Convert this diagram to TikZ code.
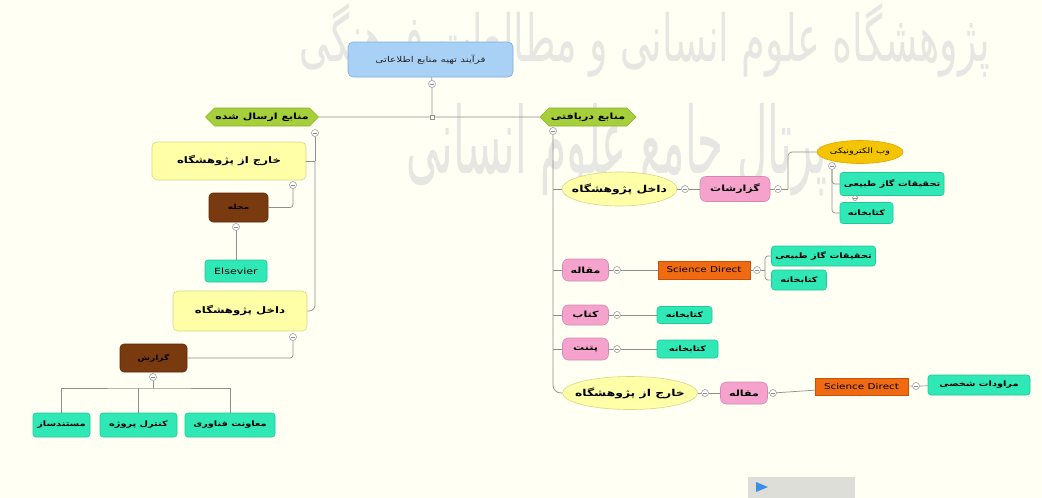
\documentclass[tikz,border=0pt]{standalone}
\usepackage{fontspec}
\usepackage{graphicx}
\usetikzlibrary{shapes.geometric,shapes.symbols}
\TeXXeTstate=1
\newfontfamily\arabicfont[Script=Arabic, FakeStretch=1.3]{DejaVu Sans}
\newfontfamily\wmfont[Script=Arabic]{DejaVu Sans}
\newcommand\fa[1]{{\arabicfont\beginR #1\endR}}
\newcommand\wm[1]{{\wmfont\beginR #1\endR}}
\definecolor{bgc}{HTML}{FFFFF3}
\definecolor{linec}{HTML}{8E8E8E}
\definecolor{bluef}{HTML}{A9D0F5}
\definecolor{blueb}{HTML}{7EAEDD}
\definecolor{greenf}{HTML}{A6CF3C}
\definecolor{greenb}{HTML}{88B22A}
\definecolor{yelf}{HTML}{FFFFA8}
\definecolor{yelb}{HTML}{D6D68C}
\definecolor{brownf}{HTML}{7A3A10}
\definecolor{brownb}{HTML}{5A2808}
\definecolor{cyanf}{HTML}{2FE8B6}
\definecolor{cyanb}{HTML}{20C898}
\definecolor{pinkf}{HTML}{F5A3CC}
\definecolor{pinkb}{HTML}{D888B0}
\definecolor{orangef}{HTML}{F06A12}
\definecolor{orangeb}{HTML}{C85008}
\definecolor{goldf}{HTML}{F5C400}
\definecolor{goldb}{HTML}{D8A800}
\definecolor{wmk}{HTML}{E6E6E2}
\definecolor{barc}{HTML}{DEDED8}
\definecolor{tric}{HTML}{3A8EE6}
\tikzset{
  base/.style={draw, line width=0.6pt, inner sep=0pt, text=black,
    font=\arabicfont\bfseries\fontsize{7.5}{9}\selectfont},
  wh/.style 2 args={minimum width=#1pt, minimum height=#2pt},
  rootbox/.style={base, rectangle, rounded corners=5pt, fill=bluef, draw=blueb,
    font=\arabicfont\fontsize{8}{9}\selectfont, text=black!85},
  greenbox/.style={base, signal, signal to=west and east, fill=greenf, draw=greenb,
    font=\arabicfont\bfseries\fontsize{8.5}{9}\selectfont},
  yelbox/.style={base, rectangle, rounded corners=5pt, fill=yelf, draw=yelb,
    font=\arabicfont\bfseries\fontsize{9}{10}\selectfont},
  yelell/.style={base, ellipse, inner xsep=-20pt, fill=yelf, draw=yelb,
    font=\arabicfont\bfseries\fontsize{9.5}{10}\selectfont},
  brownbox/.style={base, rectangle, rounded corners=4pt, fill=brownf, draw=brownb,
    font=\arabicfont\bfseries\fontsize{7}{8}\selectfont},
  cyanbox/.style={base, rectangle, rounded corners=3pt, fill=cyanf, draw=cyanb},
  pinkbox/.style={base, rectangle, rounded corners=6pt, fill=pinkf, draw=pinkb,
    font=\arabicfont\bfseries\fontsize{8.5}{9}\selectfont},
  orangebox/.style={base, rectangle, fill=orangef, draw=orangeb,
    font=\arabicfont\fontsize{8}{9}\selectfont},
  goldell/.style={base, ellipse, inner xsep=-12pt, fill=goldf, draw=goldb,
    font=\arabicfont\fontsize{7.5}{8}\selectfont},
  mk/.style={circle, draw=linec, fill=white, line width=0.5pt, minimum size=7pt, inner sep=0pt,
    path picture={\draw[linec, line width=0.5pt] ([xshift=-2pt]path picture bounding box.center)
      -- ([xshift=2pt]path picture bounding box.center);}},
  conn/.style={draw=linec, line width=0.7pt},
}
\begin{document}
\begin{tikzpicture}[x=1pt, y=-1pt]
\path[use as bounding box, fill=bgc] (0,0) rectangle (1042,498);

% ---------- watermark (behind) ----------
\node[text=wmk, inner sep=0pt] (wm1) at (645,40)
  {\resizebox{690pt}{58pt}{\wm{پژوهشگاه علوم انسانی و مطالعات فرهنگی}}};
\node[text=wmk, inner sep=0pt] (wm2) at (617,150)
  {\resizebox{420pt}{70pt}{\wm{پرتال جامع علوم انسانی}}};

% ---------- root ----------
\node[rootbox, wh={165}{35}] (root) at (430.5,59.5) {\fa{فرآیند تهیه منابع اطلاعاتی}};
\node[mk] (rootm) at (432,84) {};
\coordinate (J) at (432,117);
\node[greenbox, wh={113}{18}] (sent) at (262,117) {\fa{منابع ارسال شده}};
\node[greenbox, wh={96}{18}] (recv) at (588,117) {\fa{منابع دریافتی}};
\draw[conn] (root) -- (rootm) -- (J);
\draw[conn] (sent) -- (recv);
\node[draw=linec, fill=white, minimum size=4pt, inner sep=0pt] (Jsq) at (J) {};

% ---------- left branch ----------
\node[mk] (sentm) at (315,133) {};
\node[yelbox, wh={154}{38}] (L1) at (229,161) {\fa{خارج از پژوهشگاه}};
\node[yelbox, wh={134}{40}] (L2) at (240,311) {\fa{داخل پژوهشگاه}};
\draw[conn] (sentm) -- (L1.east -| sentm);
\draw[conn, rounded corners=6pt] (L1.east -| sentm) |- (L2.east);
\draw[conn] (L1.east -| sentm) -- (L1.east);

\node[mk] (L1m) at (293,185) {};
\node[brownbox, wh={59}{29}] (B1) at (238.5,207.5) {\fa{مجله}};
\draw[conn, rounded corners=3pt] (L1m) |- (B1.east);
\node[mk] (B1m) at (236,227) {};
\node[cyanbox, wh={62}{22}, font=\arabicfont\fontsize{8.5}{9}\selectfont] (els) at (236,271) {Elsevier};
\draw[conn] (B1m) -- (els.north);

\node[mk] (L2m) at (293,337) {};
\node[brownbox, wh={67}{28}] (B2) at (153.5,358) {\fa{گزارش}};
\draw[conn, rounded corners=3pt] (L2m) |- (B2.east);
\node[mk] (B2m) at (153,377) {};
\node[cyanbox, wh={57}{24}] (c1) at (61.5,425) {\fa{مستندساز}};
\node[cyanbox, wh={77}{24}] (c2) at (138.5,425) {\fa{کنترل پروژه}};
\node[cyanbox, wh={90}{24}] (c3) at (230,425) {\fa{معاونت فناوری}};
\coordinate (Bj) at (153,388);
\draw[conn] (B2m) -- (Bj);
\draw[conn] (c1.north) |- (Bj) -| (c3.north);
\draw[conn] (c2.north) -- (c2.north |- Bj);

% ---------- right branch ----------
\node[mk] (recvm) at (553,131) {};
\node[yelell, wh={115}{34}] (R1) at (619.5,189) {\fa{داخل پژوهشگاه}};
\node[pinkbox, wh={46}{22}] (P1) at (585.5,270) {\fa{مقاله}};
\node[pinkbox, wh={46}{20}] (P2) at (585.5,315) {\fa{کتاب}};
\node[pinkbox, wh={46}{22}] (P3) at (585.5,349) {\fa{پتنت}};
\node[yelell, wh={135}{33}] (R5) at (630,393) {\fa{خارج از پژوهشگاه}};
\draw[conn, rounded corners=8pt] (recvm) |- (R5.west);
\draw[conn] (R1.west -| recvm) -- (R1.west);
\draw[conn] (P1.west -| recvm) -- (P1.west);
\draw[conn] (P2.west -| recvm) -- (P2.west);
\draw[conn] (P3.west -| recvm) -- (P3.west);

% inside institute
\node[mk] (R1m) at (685,189) {};
\node[pinkbox, wh={70}{25}] (R2) at (735,189) {\fa{گزارشات}};
\draw[conn] (R1) -- (R1m) -- (R2);
\node[mk] (R2m) at (778,189) {};
\node[goldell, wh={86}{23}] (R3) at (860,152) {\fa{وب الکترونیکی}};
\coordinate (R2j) at (788,189);
\draw[conn] (R2) -- (R2m) -- (R2j);
\draw[conn, rounded corners=4pt] (R2j) |- (R3.west);
\node[mk] (R3m) at (832,166) {};
\node[cyanbox, wh={104}{23}] (R4a) at (892,184) {\fa{تحقیقات گاز طبیعی}};
\node[cyanbox, wh={53}{21}] (R4b) at (866.5,213) {\fa{کتابخانه}};
\draw[conn, rounded corners=3pt] (R3m) |- (R4a.west);
\draw[conn, rounded corners=3pt] (R3m) |- (R4b.west);
\node[mk, minimum size=5pt] (R4am) at (855,198) {};

% article
\node[mk] (P1m) at (617,270) {};
\node[orangebox, wh={92}{18}] (SD1) at (704,270) {Science Direct};
\draw[conn] (P1) -- (P1m) -- (SD1);
\node[mk] (SD1m) at (757,270) {};
\node[cyanbox, wh={104}{20}] (C1a) at (823.5,256) {\fa{تحقیقات گاز طبیعی}};
\node[cyanbox, wh={55}{20}] (C1b) at (799,280) {\fa{کتابخانه}};
\coordinate (SDj) at (765,270);
\draw[conn] (SD1) -- (SD1m) -- (SDj);
\draw[conn, rounded corners=3pt] (SDj) |- (C1a.west);
\draw[conn, rounded corners=3pt] (SDj) |- (C1b.west);

% book
\node[mk] (P2m) at (617,315) {};
\node[cyanbox, wh={55}{17}] (C2) at (684.5,315) {\fa{کتابخانه}};
\draw[conn] (P2) -- (P2m) -- (C2);

% patent
\node[mk] (P3m) at (617,349) {};
\node[cyanbox, wh={61}{18}] (C3) at (687.5,349) {\fa{کتابخانه}};
\draw[conn] (P3) -- (P3m) -- (C3);

% outside institute
\node[mk] (R5m) at (705,393) {};
\node[pinkbox, wh={47}{22}] (P4) at (744,393) {\fa{مقاله}};
\draw[conn] (R5) -- (R5m) -- (P4);
\node[mk] (P4m) at (773,393) {};
\node[orangebox, wh={93}{17}] (SD2) at (861.5,387) {Science Direct};
\draw[conn] (P4) -- (P4m) -- (SD2);
\node[mk] (SD2m) at (916,386) {};
\node[cyanbox, wh={102}{20}] (C4) at (979,385) {\fa{مراودات شخصی}};
\draw[conn] (SD2) -- (SD2m) -- (C4);

% ---------- bottom bar ----------
\fill[barc] (748,477) rectangle (855,498);
\fill[tric] (756,482) -- (768,487) -- (756,492) -- cycle;
\end{tikzpicture}
\end{document}
